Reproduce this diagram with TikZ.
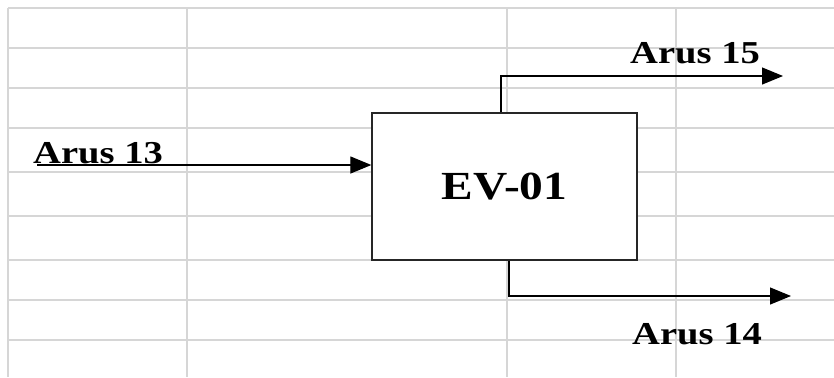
\documentclass[tikz,border=0pt]{standalone}
\usepackage{fontspec}
\setmainfont{Liberation Serif}
\usepackage{tikz}
\usetikzlibrary{arrows.meta}
\usetikzlibrary{positioning}

\newcommand{\wide}[2]{\scalebox{#1}[1]{#2}}

\begin{document}
\begin{tikzpicture}[x=1bp, y=-1bp,
        grid/.style={draw=black!16, line width=2bp},
        unit/.style={rectangle, draw=black!85, fill=white, line width=1.3bp, minimum width=265bp, minimum height=147bp, inner sep=0pt},
        stream/.style={draw=black, line width=1.2bp, -{Triangle[length=21bp, width=17bp]}},
        label/.style={anchor=base west, inner sep=0pt, font=\fontsize{32}{32}\selectfont\bfseries}]
            \useasboundingbox (0, 0) rectangle (834, 377);
            % sheet lines behind the flow sheet
            \foreach \y in {8, 48, 88, 128, 172, 216, 260, 300, 340}
                \draw[grid] (8, \y) -- (834, \y);
            \foreach \x in {8, 187, 507, 676}
                \draw[grid] (\x, 8) -- (\x, 377);

            \node[unit] (ev) at (504.5, 186.5) {\fontsize{40}{40}\selectfont\bfseries\wide{1.19}{EV-01}};

            \coordinate (in13) at (37, 165);
            \coordinate (up15) at (501, 76);
            \coordinate (out15) at (783, 76);
            \coordinate (dn14) at (509, 296);
            \coordinate (out14) at (791, 296);

            \draw[stream] (in13) -- (ev.west |- in13);
            \draw[stream] (ev.north -| up15) -- (up15) -- (out15);
            \draw[stream] (ev.south -| dn14) -- (dn14) -- (out14);

            \node[label] (a13) at (33, 163) {\wide{1.21}{Arus 13}};
            \node[label] (a15) at (630, 63) {\wide{1.21}{Arus 15}};
            \node[label] (a14) at (632, 344) {\wide{1.21}{Arus 14}};
        \end{tikzpicture}
\end{document}
